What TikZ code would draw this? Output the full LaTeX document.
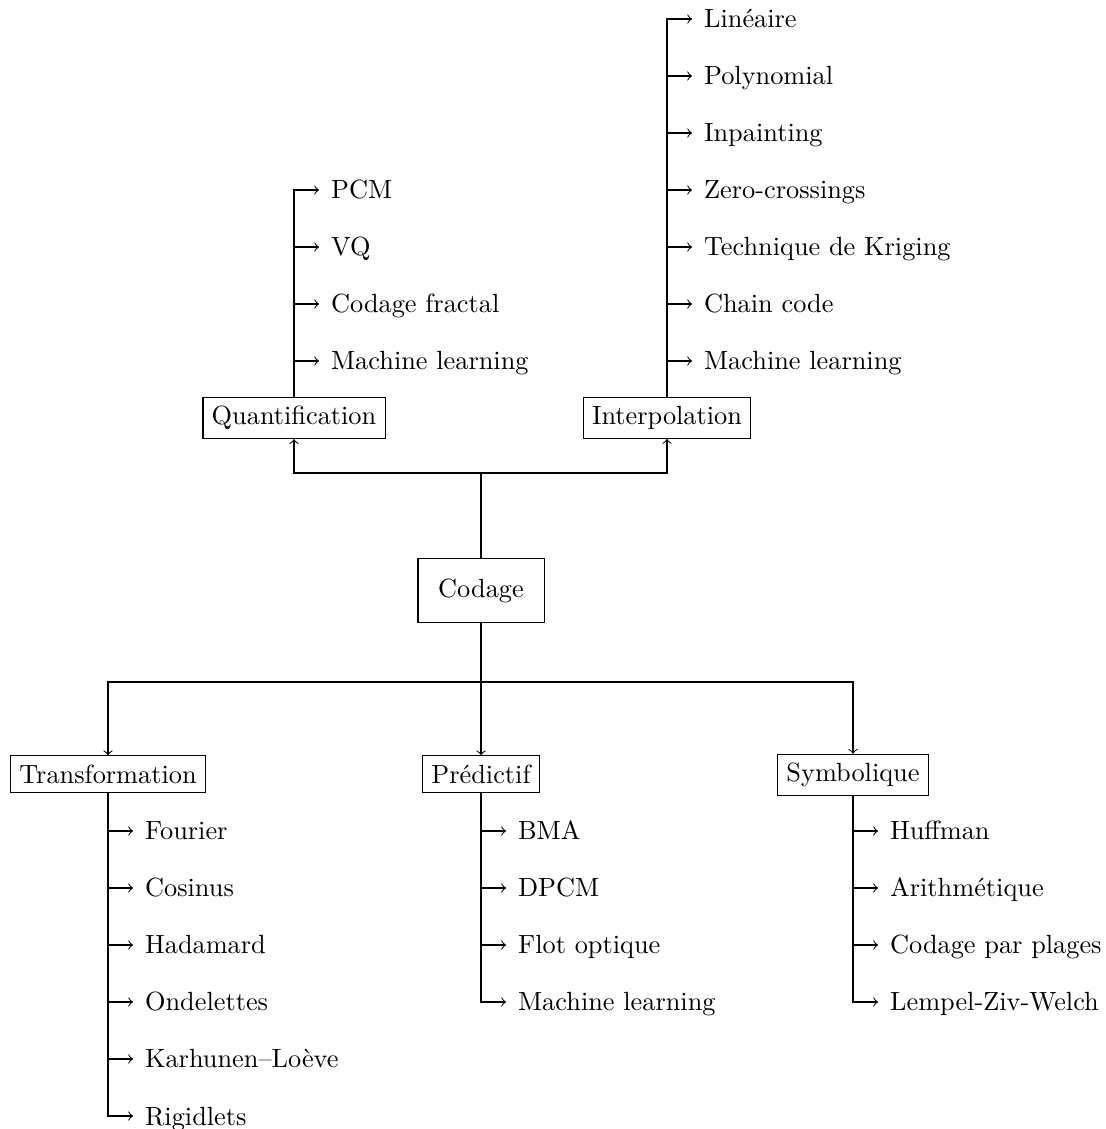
\documentclass[tikz,border=0pt]{standalone}
\begin{document}
\begin{tikzpicture}[x=0.38pt,y=-0.38pt,
  catbox/.style={draw,inner sep=3.33pt},
  rootbox/.style={draw,semithick,inner xsep=7.8pt,inner ysep=7.6pt},
  leaf/.style={anchor=west,inner xsep=4.4pt,inner ysep=3.33pt,text height=6.83pt,text depth=0pt},
  conn/.style={->}]
\useasboundingbox (0,0) rectangle (1105,1129);
% root
\node[rootbox] (cod) at (481,590.5) {Codage};
% categories
\node[catbox] (quant) at (294,418) {Quantification};
\node[catbox] (interp) at (667,418) {Interpolation};
\node[catbox] (trans) at (108,774) {Transformation};
\node[catbox] (pred) at (481,774) {Prédictif};
\node[catbox] (symb) at (853,775) {Symbolique};
% junctions
\coordinate (jt) at (481,473);
\coordinate (jb) at (481,682);
\draw (cod.north) -- (jt);
\draw[conn] (jt) -| (quant.south);
\draw[conn] (jt) -| (interp.south);
\draw (cod.south) -- (jb);
\draw[conn] (jb) -- (pred.north);
\draw[conn] (jb) -| (trans.north);
\draw[conn] (jb) -| (symb.north);
% Quantification leaves
\node[leaf] (q1) at (319,190) {PCM};
\node[leaf] (q2) at (319,247) {VQ};
\node[leaf] (q3) at (319,304) {Codage fractal};
\node[leaf] (q4) at (319,361) {Machine learning};
\draw[conn] (quant.north) |- (q1.west);
\foreach \n in {q2,q3,q4} \draw[conn] (quant.north |- \n.west) -- (\n.west);
% Interpolation leaves
\node[leaf] (i1) at (692,19) {Linéaire};
\node[leaf] (i2) at (692,76) {Polynomial};
\node[leaf] (i3) at (692,133) {Inpainting};
\node[leaf] (i4) at (692,190) {Zero-crossings};
\node[leaf] (i5) at (692,247) {Technique de Kriging};
\node[leaf] (i6) at (692,304) {Chain code};
\node[leaf] (i7) at (692,361) {Machine learning};
\draw[conn] (interp.north) |- (i1.west);
\foreach \n in {i2,i3,i4,i5,i6,i7} \draw[conn] (interp.north |- \n.west) -- (\n.west);
% Transformation leaves
\node[leaf] (t1) at (133,831) {Fourier};
\node[leaf] (t2) at (133,888) {Cosinus};
\node[leaf] (t3) at (133,945) {Hadamard};
\node[leaf] (t4) at (133,1002) {Ondelettes};
\node[leaf] (t5) at (133,1059) {Karhunen--Loève};
\node[leaf] (t6) at (133,1116) {Rigidlets};
\draw[conn] (trans.south) |- (t6.west);
\foreach \n in {t1,t2,t3,t4,t5} \draw[conn] (trans.south |- \n.west) -- (\n.west);
% Predictif leaves
\node[leaf] (p1) at (506,831) {BMA};
\node[leaf] (p2) at (506,888) {DPCM};
\node[leaf] (p3) at (506,945) {Flot optique};
\node[leaf] (p4) at (506,1002) {Machine learning};
\draw[conn] (pred.south) |- (p4.west);
\foreach \n in {p1,p2,p3} \draw[conn] (pred.south |- \n.west) -- (\n.west);
% Symbolique leaves
\node[leaf] (s1) at (878,831) {Huffman};
\node[leaf] (s2) at (878,888) {Arithmétique};
\node[leaf] (s3) at (878,945) {Codage par plages};
\node[leaf] (s4) at (878,1002) {Lempel-Ziv-Welch};
\draw[conn] (symb.south) |- (s4.west);
\foreach \n in {s1,s2,s3} \draw[conn] (symb.south |- \n.west) -- (\n.west);
\end{tikzpicture}
\end{document}
